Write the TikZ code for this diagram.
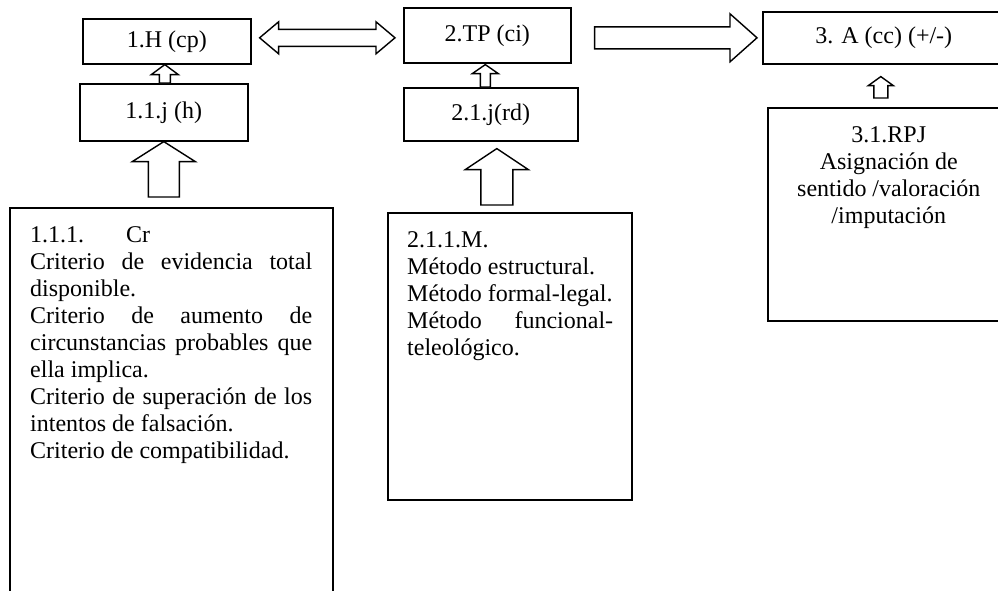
\documentclass[tikz,border=0pt]{standalone}
\usepackage{fontspec}
\setmainfont{Liberation Serif}
\usetikzlibrary{calc,positioning}
\setlength{\parindent}{0pt}

\tikzset{
  box/.style={draw,line width=1.6pt,anchor=north west,inner sep=0pt},
  boxtext/.style={inner sep=0pt,align=justify},
  blockarr/.style={draw,line width=1.4pt,fill=white,line join=miter},
}
% block arrows: #1 base, #2 tip, #3 half shaft, #4 half head, #5 head length
\newcommand{\blockup}[5]{%
  \draw[blockarr] let \p1=(#1), \p2=(#2) in
    (\x2-#3,\y1) -- (\x2-#3,\y2-#5) -- (\x2-#4,\y2-#5) -- (\x2,\y2)
    -- (\x2+#4,\y2-#5) -- (\x2+#3,\y2-#5) -- (\x2+#3,\y1) -- cycle;}
\newcommand{\blockright}[5]{%
  \draw[blockarr] let \p1=(#1), \p2=(#2) in
    (\x1,\y1+#3) -- (\x2-#5,\y1+#3) -- (\x2-#5,\y1+#4) -- (\x2,\y1)
    -- (\x2-#5,\y1-#4) -- (\x2-#5,\y1-#3) -- (\x1,\y1-#3) -- cycle;}
\newcommand{\blockboth}[5]{%
  \draw[blockarr] let \p1=(#1), \p2=(#2) in
    (\x1,\y1) -- (\x1+#5,\y1+#4) -- (\x1+#5,\y1+#3) -- (\x2-#5,\y1+#3)
    -- (\x2-#5,\y1+#4) -- (\x2,\y1) -- (\x2-#5,\y1-#4) -- (\x2-#5,\y1-#3)
    -- (\x1+#5,\y1-#3) -- (\x1+#5,\y1-#4) -- cycle;}

\begin{document}
\begin{tikzpicture}[x=1pt,y=-1pt,font=\fontsize{24}{27}\selectfont]
  \useasboundingbox (0,0) rectangle (998,590);
  \clip (0,0) rectangle (998,590);
  % column 1
  \node[box,minimum width=168pt,minimum height=45pt] (hyp) at (82,18) {1.H (cp)};
  \node[box,minimum width=168pt,minimum height=57pt] (jh) at (79,83) {1.1.j (h)};
  \node[box,minimum width=323pt,minimum height=400pt] (cr) at (9,207) {};
  \node[boxtext,text width=282pt,below right=16pt and 21pt of cr.north west] (crtext)
    {\strut 1.1.1.\hspace{42pt}Cr\par
     Criterio de evidencia total\linebreak disponible.\par
     Criterio de aumento de\linebreak circunstancias probables que\linebreak ella implica.\par
     Criterio de superación de los\linebreak intentos de falsación.\par
     Criterio de compatibilidad.};
  % column 2
  \node[box,minimum width=167pt,minimum height=55pt] (tp) at (403,7) {2.TP (ci)};
  \node[box,minimum width=174pt,minimum height=53pt] (rd) at (403,87) {2.1.j(rd)};
  \node[box,minimum width=244pt,minimum height=287pt] (met) at (387,212) {};
  \node[boxtext,text width=206pt,below right=16pt and 20pt of met.north west] (mettext)
    {\strut 2.1.1.M.\par
     Método estructural.\par
     Método formal-legal.\par
     Método funcional-\linebreak teleológico.};
  % column 3
  \node[box,minimum width=242pt,minimum height=52pt] (acc) at (762,11) {3. A (cc) (+/-)};
  \node[box,minimum width=242pt,minimum height=213pt] (rpj) at (767,107) {};
  \node[boxtext,align=center,below=16pt of rpj.north] (rpjtext)
    {\strut 3.1.RPJ\\ Asignación de\\ sentido /valoración\\ /imputación};
  % arrows
  \blockboth{$(hyp.east)+(8,-3.5)$}{$(tp.west)+(-8,0)$}{8.5pt}{16pt}{19pt}
  \blockright{$(tp.east)+(23,2.5)$}{$(acc.west)+(-5,0)$}{11pt}{24pt}{27pt}
  \blockup{jh.north}{$(hyp.south)+(-2,0)$}{5.5pt}{13.5pt}{10pt}
  \blockup{rd.north}{$(tp.south)+(-2,1)$}{5pt}{13pt}{9pt}
  \blockup{$(rpj.north)+(0,-9)$}{$(acc.south)+(-3,12)$}{7pt}{12.5pt}{9pt}
  \blockup{$(cr.north)+(0,-10)$}{jh.south}{15.5pt}{31.5pt}{20pt}
  \blockup{$(met.north)+(0,-7)$}{$(rd.south)+(6,7)$}{16pt}{31.5pt}{21pt}
\end{tikzpicture}
\end{document}
